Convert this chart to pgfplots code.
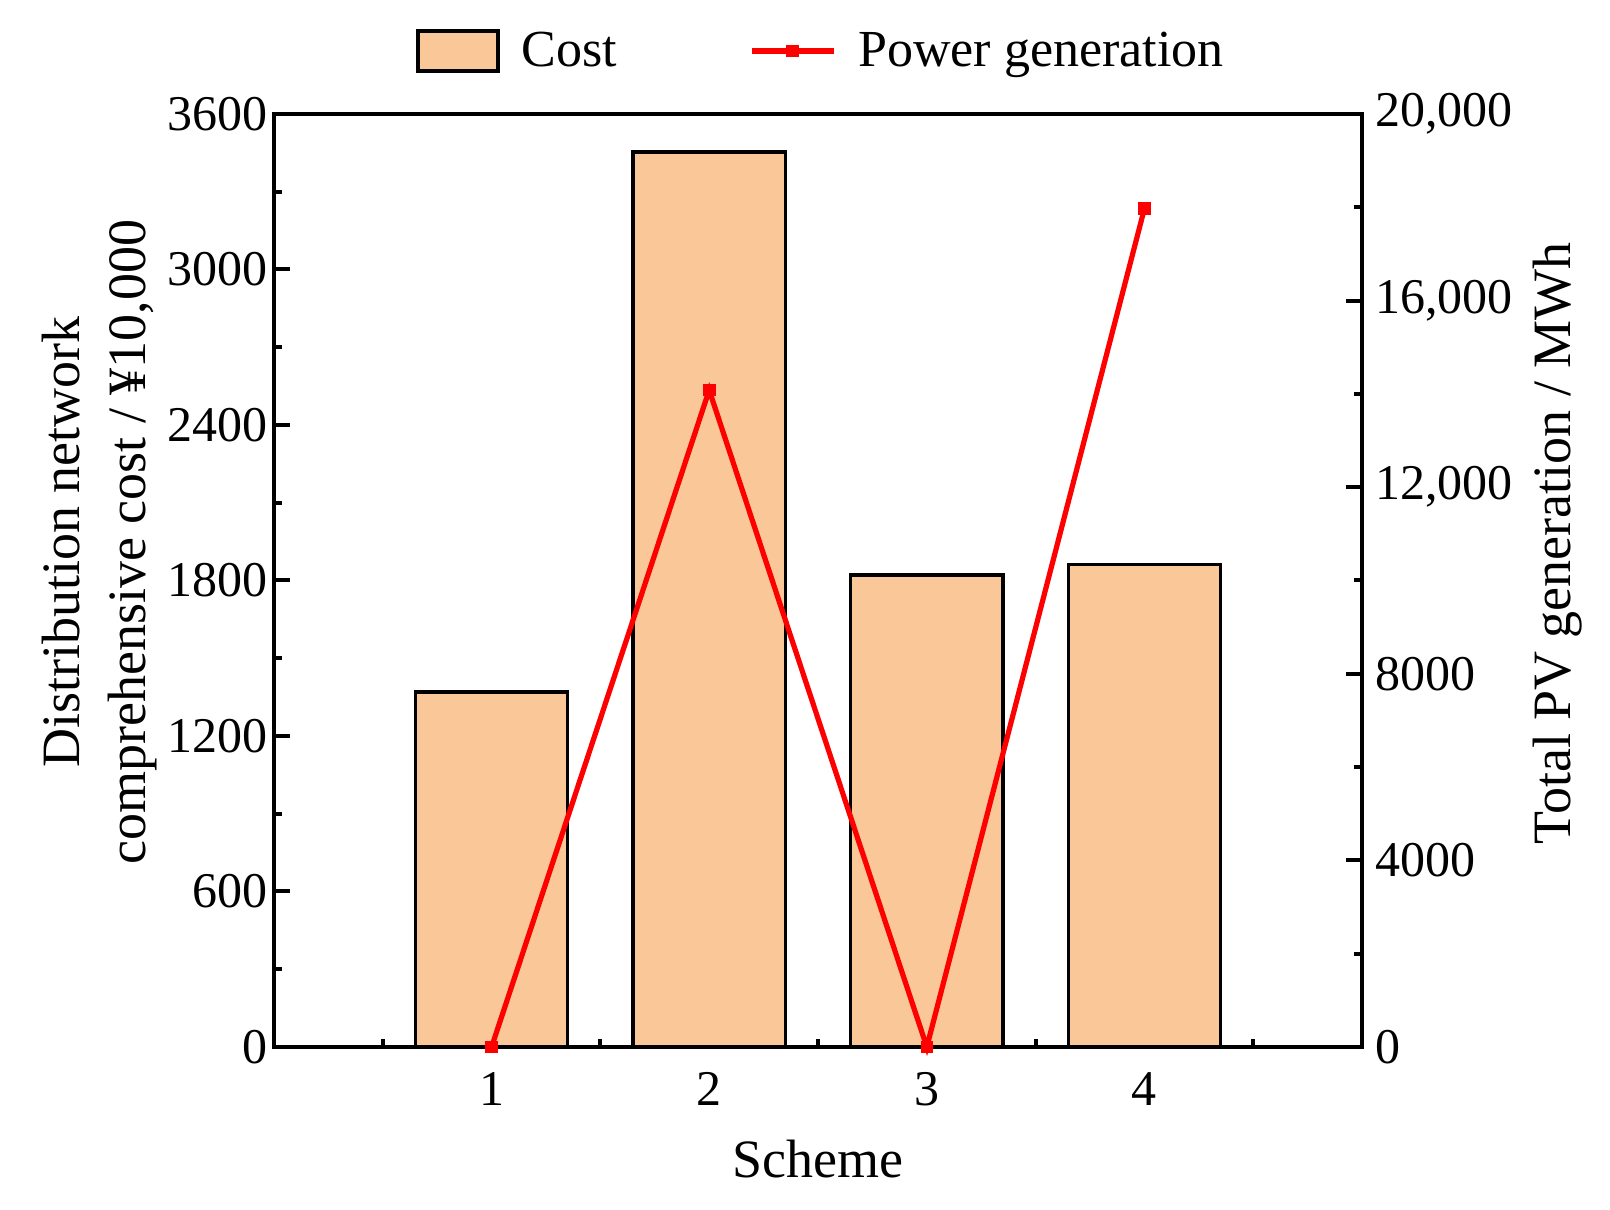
\documentclass[border=0pt]{standalone}
\usepackage{fontspec}
\setmainfont{Liberation Serif}
\usepackage{pgfplots}
\usepackage{pgfplotstable}
\pgfplotsset{compat=1.18}
\definecolor{barfill}{RGB}{250,200,152}

\pgfplotsset{
  costlegend/.style={legend image code/.code={\draw[##1] (0pt,-10pt) rectangle (40pt,10pt);}},
  powerlegend/.style={legend image code/.code={\draw[mark repeat=2, mark phase=2, ##1] plot coordinates {(0pt,0pt) (20.5pt,0pt) (41pt,0pt)};}},
}

\pgfplotstableread{
x cost
1 1370
2 3453
3 1821
4 1863
}\costtable
\pgfplotstableread{
x power
1 0
2 14080
3 0
4 17970
}\powertable

\begin{document}
\begin{tikzpicture}
\path[use as bounding box] (-137pt,-81pt) rectangle (668pt,523.5pt);
\pgfplotsset{
  common/.style={
    width=544pt, height=466.5pt, scale only axis,
    anchor=south west, at={(0,0)},
    xmin=0, xmax=5,
    axis line style={line width=2pt},
    tick style={line width=2pt, black},
    major tick length=8pt, minor tick length=4pt,
    tick align=inside,
    scaled ticks=false,
    tick label style={font=\fontsize{25}{30}\selectfont},
    label style={font=\fontsize{27}{33}\selectfont},
  }
}
\begin{axis}[common,
  ymin=0, ymax=3600,
  xtick={1,2,3,4}, xticklabels={1,2,3,4},
  minor xtick={0.5,1.5,2.5,3.5,4.5},
  xtick pos=lower, ytick pos=left,
  ytick={0,600,1200,1800,2400,3000,3600},
  yticklabels={0,600,1200,1800,2400,3000,3600},
  minor ytick={300,900,1500,2100,2700,3300},
  xticklabel style={anchor=north, inner sep=0pt, yshift=-12.5pt},
  yticklabel style={anchor=east, inner sep=0pt, xshift=-3pt},
  xlabel={Scheme},
  xlabel style={at={(axis description cs:0.5,-0.12)}, anchor=center},
  ylabel={Distribution network\\comprehensive cost / ¥10,000},
  ylabel style={align=center, at={(axis description cs:-0.16,0.541)}, anchor=center},
]
\addplot[ybar, bar width=0.7, fill=barfill, draw=black, line width=1.6pt]
  table[x=x, y=cost]{\costtable};
\end{axis}
\begin{axis}[common,
  axis x line=none, axis y line*=right,
  ymin=0, ymax=20000,
  ytick={0,4000,8000,12000,16000,20000},
  yticklabels={0,4000,8000,{12,000},{16,000},{20,000}},
  minor ytick={2000,6000,10000,14000,18000},
  ytick pos=right,
  yticklabel style={anchor=west, inner sep=0pt, xshift=6.5pt},
  ylabel={Total PV generation / MWh},
  ylabel style={at={(axis description cs:1.18,0.54)}, anchor=center},
  clip=false,
  legend columns=2,
  legend style={at={(axis description cs:0.1305,1.0675)}, anchor=west,
    draw=none, fill=none, inner sep=0pt,
    font=\fontsize{26}{30}\selectfont,
    nodes={inner xsep=0pt, inner ysep=1pt},
    /tikz/every odd column/.append style={column sep=11pt},
    /tikz/every even column/.append style={column sep=66pt}},
]
\addlegendimage{fill=barfill, draw=black, line width=1.6pt, costlegend}
\addlegendentry{Cost}
\addplot[red, line width=2.6pt, mark=square*, mark size=2.9pt,
  mark options={solid, fill=red, draw=red, line width=0.5pt}, powerlegend]
  table[x=x, y=power]{\powertable};
\addlegendentry{Power generation}
\end{axis}
\end{tikzpicture}
\end{document}
